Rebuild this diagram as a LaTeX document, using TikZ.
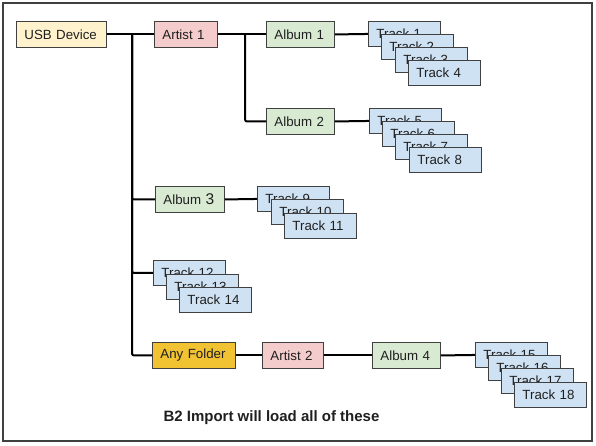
\documentclass[tikz,border=0pt]{standalone}
\usepackage{fontspec}
\setmainfont{Liberation Sans}
\usepackage{tikz}
\usetikzlibrary{positioning}

\definecolor{usbfill}{HTML}{FFF2CC}
\definecolor{artistfill}{HTML}{F4CCCC}
\definecolor{albumfill}{HTML}{D9EAD3}
\definecolor{trackfill}{HTML}{CFE2F3}
\definecolor{folderfill}{HTML}{F1C232}
\definecolor{boxline}{HTML}{404040}
\definecolor{textcol}{HTML}{1F1F1F}

\tikzset{
  box/.style={draw=boxline, line width=0.9pt, anchor=north west, minimum height=26pt,
    inner ysep=0pt, inner xsep=8pt, align=left, text=textcol,
    font=\fontsize{13.3}{15}\selectfont},
  track/.style={box, fill=trackfill, text width=56pt, minimum height=25pt},
  link/.style={line width=2pt, black, rounded corners=2pt},
}

\begin{document}
\begin{tikzpicture}[x=1pt,y=-1pt]
\useasboundingbox (0,0) rectangle (596,445);
\draw[boxline, line width=1.2pt] (3,3) rectangle (592,441);

% top row
\node[box, fill=usbfill, text width=74pt] (usb) at (16,21) {USB Device};
\node[box, fill=artistfill, text width=47pt] (artist1) at (154,21) {Artist 1};
\node[box, fill=albumfill, text width=52pt] (album1) at (266,21) {Album 1};
\node[box, fill=albumfill, text width=52pt] (album2) at (266,108) {Album 2};

\node[track] (tr1) at (368,21) {Track 1};
\node[track] (tr2) at (381,34) {Track 2};
\node[track] (tr3) at (395,47) {Track 3};
\node[track] (tr4) at (408,60) {Track 4};

\node[track] (tr5) at (369,108) {Track 5};
\node[track] (tr6) at (382,121) {Track 6};
\node[track] (tr7) at (395,134) {Track 7};
\node[track] (tr8) at (409,147) {Track 8};

% album straight under the device
\node[box, fill=albumfill, text width=53pt] (album3) at (155,186) {Album {\fontsize{15.5}{15}\selectfont 3}};
\node[track] (tr9) at (257,186) {Track 9};
\node[track] (tr10) at (271,199) {Track 10};
\node[track] (tr11) at (284,213) {Track 11};

% loose tracks
\node[track] (tr12) at (153,260) {Track 12};
\node[track] (tr13) at (166,274) {Track 13};
\node[track] (tr14) at (179,287) {Track 14};

% any folder row
\node[box, fill=folderfill, text width=67pt] (folder) at (152,342) {Any Folder};
\node[box, fill=artistfill, text width=45pt] (artist2) at (262,342) {Artist 2};
\node[box, fill=albumfill, text width=52pt] (album4) at (372,342) {Album 4};
\node[track] (tr15) at (475,342) {Track 15};
\node[track] (tr16) at (488,355) {Track 16};
\node[track] (tr17) at (501,368) {Track 17};
\node[track] (tr18) at (514,382) {Track 18};

% connectors
\coordinate (trunk) at (132,34);
\coordinate (split) at (245,34);
\draw[link] (usb.east) -- (artist1.west);
\draw[link] (trunk) |- (album3.west);
\draw[link] (trunk) |- (tr12.west);
\draw[link] (trunk) |- (folder.west);
\draw[link] (artist1.east) -- (album1.west);
\draw[link] (split) |- (album2.west);
\draw[link] (album1.east) -- (tr1.west);
\draw[link] (album2.east) -- (tr5.west);
\draw[link] (album3.east) -- (tr9.west);
\draw[link] (folder.east) -- (artist2.west);
\draw[link] (artist2.east) -- (album4.west);
\draw[link] (album4.east) -- (tr15.west);

\node[anchor=west, text=textcol, font=\fontsize{15}{17}\selectfont\bfseries] (caption) at (160,418) {B2 Import will load all of these};
\end{tikzpicture}
\end{document}
